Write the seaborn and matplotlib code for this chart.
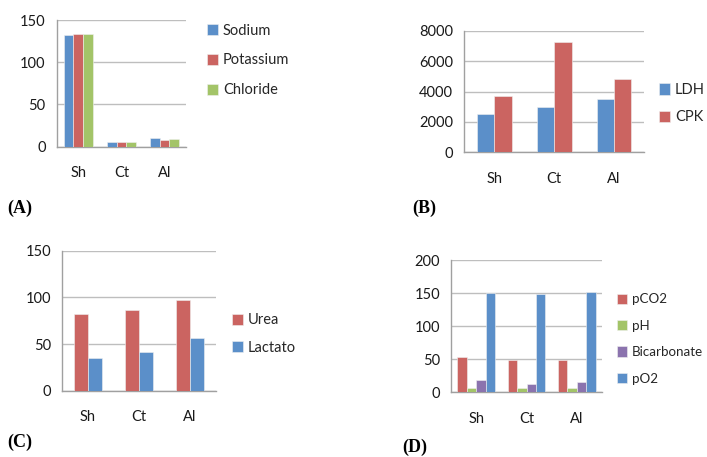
import matplotlib
matplotlib.use("Agg")
import matplotlib.pyplot as plt
import seaborn as sns
import pandas as pd

categories = ["Sh", "Ct", "Al"]

# Panel A
a_series = ["Sodium", "Potassium", "Chloride"]
a_sodium = [132, 5, 10]
a_potassium = [133, 6, 8]
a_chloride = [133, 6, 9]

# Panel B
b_series = ["LDH", "CPK"]
b_ldh = [2500, 3000, 3500]
b_cpk = [3730, 7270, 4820]

# Panel C
c_series = ["Urea", "Lactato"]
c_urea = [82, 86, 97.5]
c_lactato = [35, 41.5, 56]

# Panel D
d_series = ["pCO2", "pH", "Bicarbonate", "pO2"]
d_pco2 = [54, 49, 49]
d_ph = [6.5, 6.5, 6.5]
d_bicarb = [18, 12, 16]
d_po2 = [150, 149, 152]

BLUE = "#5B8FC9"
RED = "#CB6461"
GREEN = "#A3C468"
PURPLE = "#8B73AE"

sns.set_theme(style="white")
plt.rcParams["font.family"] = ["Lato", "DejaVu Sans"]

W, H = 707, 457
fig = plt.figure(figsize=(W / 100, H / 100), dpi=100)


def long_df(series_names, values_list):
    rows = []
    for name, vals in zip(series_names, values_list):
        for c, v in zip(categories, vals):
            rows.append({"cat": c, "series": name, "value": v})
    return pd.DataFrame(rows)


def make_axes(left, right, top, bottom):
    return fig.add_axes([left / W, 1 - bottom / H, (right - left) / W, (bottom - top) / H])


def panel(box, df, palette, width, ymax, ystep, leg_left, leg_cy, leg_spacing, label, label_xy,
          leg_fs=10.5):
    ax = make_axes(*box)
    sns.barplot(data=df, x="cat", y="value", hue="series", palette=palette,
                width=width, ax=ax, errorbar=None, saturation=1,
                edgecolor="#f0f0f0", linewidth=0.4, zorder=3)
    ax.set_ylim(0, ymax)
    ax.set_xlim(-0.5, 2.5)
    ax.set_yticks(list(range(0, ymax + 1, ystep)))
    ax.set_xlabel("")
    ax.set_ylabel("")
    ax.grid(axis="y", color="#BEBEBE", linewidth=1, zorder=0)
    ax.set_axisbelow(True)
    for s in ["top", "right"]:
        ax.spines[s].set_visible(False)
    for s in ["left", "bottom"]:
        ax.spines[s].set_color("#A0A0A0")
        ax.spines[s].set_linewidth(1)
    ax.set_xticks([0, 1, 2])
    ax.set_xticks([-0.5, 0.5, 1.5, 2.5], minor=True)
    ax.tick_params(axis="x", which="major", length=0, pad=14, labelsize=10.5, colors="#1a1a1a")
    ax.tick_params(axis="x", which="minor", length=5, width=1, color="#A0A0A0", direction="out")
    ax.tick_params(axis="y", which="major", length=5, width=1, direction="out",
                   labelsize=10.5, pad=3, colors="#1a1a1a")
    ax.tick_params(axis="y", which="major", color="#BEBEBE")
    handles, labels = ax.get_legend_handles_labels()
    ax.legend(handles, labels, loc="center left",
              bbox_to_anchor=(leg_left / W, 1 - leg_cy / H), bbox_transform=fig.transFigure,
              frameon=False, fontsize=leg_fs, handlelength=0.75, handleheight=0.8,
              handletextpad=0.35, borderpad=0, borderaxespad=0,
              labelspacing=(leg_spacing - leg_fs * 1.39) / (leg_fs * 1.39))
    fig.text(label_xy[0] / W, 1 - label_xy[1] / H, label, fontsize=13, fontweight="bold",
             family="Liberation Serif", va="center", ha="left", color="black")
    return ax


dfa = long_df(a_series, [a_sodium, a_potassium, a_chloride])
panel((56.7, 186, 20, 146.7), dfa, [BLUE, RED, GREEN], 0.67, 150, 50,
      207, 60.5, 30.5, "(A)", (7, 208))

dfb = long_df(b_series, [b_ldh, b_cpk])
panel((464.3, 644, 30.7, 152.3), dfb, [BLUE, RED], 0.58, 8000, 2000,
      659, 103.7, 28, "(B)", (412, 208))

dfc = long_df(c_series, [c_urea, c_lactato])
panel((62.3, 215.7, 250.7, 390.7), dfc, [RED, BLUE], 0.56, 150, 50,
      232, 334, 28.3, "(C)", (7, 442))

dfd = long_df(d_series, [d_pco2, d_ph, d_bicarb, d_po2])
panel((451, 602, 260, 392.3), dfd, [RED, GREEN, PURPLE, BLUE], 0.75, 200, 50,
      617, 339, 27.7, "(D)", (402, 447), leg_fs=9.6)

fig.savefig("out.png", dpi=100, facecolor="white")
